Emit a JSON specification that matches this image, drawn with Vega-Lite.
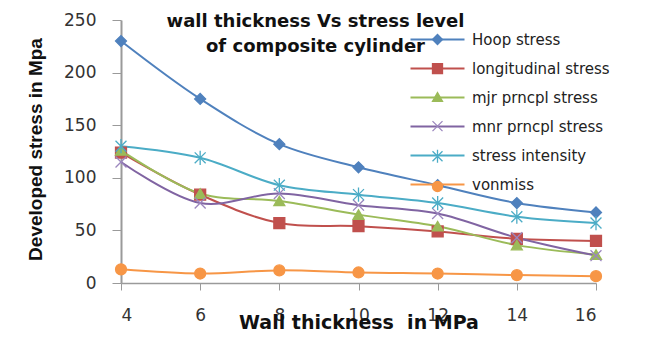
{
  "$schema": "https://vega.github.io/schema/vega-lite/v6.json",
  "autosize": "none",
  "width": 475,
  "height": 263,
  "padding": {"left": 121, "top": 20, "right": 58, "bottom": 58},
  "background": "white",
  "config": {"view": {"stroke": null}, "font": "DejaVu Sans"},
  "title": {
    "text": ["wall thickness Vs stress level", "of composite cylinder"],
    "font": "DejaVu Sans",
    "fontSize": 18,
    "fontWeight": "bold",
    "color": "#111",
    "anchor": "middle",
    "baseline": "top",
    "lineHeight": 25,
    "offset": 5,
    "dx": -43,
    "dy": 50
  },
  "data": {
    "values": [
      {"x": 4, "series": "Hoop stress", "marker": "Hoop stress", "value": 230},
      {"x": 6, "series": "Hoop stress", "marker": "Hoop stress", "value": 175},
      {"x": 8, "series": "Hoop stress", "marker": "Hoop stress", "value": 132},
      {"x": 10, "series": "Hoop stress", "marker": "Hoop stress", "value": 110},
      {"x": 12, "series": "Hoop stress", "marker": "Hoop stress", "value": 93},
      {"x": 14, "series": "Hoop stress", "marker": "Hoop stress", "value": 76},
      {"x": 16, "series": "Hoop stress", "marker": "Hoop stress", "value": 67},
      {"x": 4, "series": "longitudinal stress", "marker": "longitudinal stress", "value": 124},
      {"x": 6, "series": "longitudinal stress", "marker": "longitudinal stress", "value": 84},
      {"x": 8, "series": "longitudinal stress", "marker": "longitudinal stress", "value": 57},
      {"x": 10, "series": "longitudinal stress", "marker": "longitudinal stress", "value": 54},
      {"x": 12, "series": "longitudinal stress", "marker": "longitudinal stress", "value": 49},
      {"x": 14, "series": "longitudinal stress", "marker": "longitudinal stress", "value": 42},
      {"x": 16, "series": "longitudinal stress", "marker": "longitudinal stress", "value": 40},
      {"x": 4, "series": "mjr prncpl stress", "marker": "mjr prncpl stress", "value": 126},
      {"x": 6, "series": "mjr prncpl stress", "marker": "mjr prncpl stress", "value": 85},
      {"x": 8, "series": "mjr prncpl stress", "marker": "mjr prncpl stress", "value": 78},
      {"x": 10, "series": "mjr prncpl stress", "marker": "mjr prncpl stress", "value": 65},
      {"x": 12, "series": "mjr prncpl stress", "marker": "mjr prncpl stress", "value": 54},
      {"x": 14, "series": "mjr prncpl stress", "marker": "mjr prncpl stress", "value": 36},
      {"x": 16, "series": "mjr prncpl stress", "marker": "mjr prncpl stress", "value": 27},
      {"x": 4, "series": "mnr prncpl stress", "marker": "mnr prncpl stress", "value": 115},
      {"x": 6, "series": "mnr prncpl stress", "marker": "mnr prncpl stress", "value": 76},
      {"x": 8, "series": "mnr prncpl stress", "marker": "mnr prncpl stress", "value": 85},
      {"x": 10, "series": "mnr prncpl stress", "marker": "mnr prncpl stress", "value": 74},
      {"x": 12, "series": "mnr prncpl stress", "marker": "mnr prncpl stress", "value": 66},
      {"x": 14, "series": "mnr prncpl stress", "marker": "mnr prncpl stress", "value": 43},
      {"x": 16, "series": "mnr prncpl stress", "marker": "mnr prncpl stress", "value": 26},
      {"x": 4, "series": "stress intensity", "marker": "stress intensity", "value": 130},
      {"x": 6, "series": "stress intensity", "marker": "stress intensity", "value": 119},
      {"x": 8, "series": "stress intensity", "marker": "stress intensity", "value": 93},
      {"x": 10, "series": "stress intensity", "marker": "stress intensity", "value": 84},
      {"x": 12, "series": "stress intensity", "marker": "stress intensity", "value": 76},
      {"x": 14, "series": "stress intensity", "marker": "stress intensity", "value": 63},
      {"x": 16, "series": "stress intensity", "marker": "stress intensity", "value": 57},
      {"x": 4, "series": "vonmiss", "marker": "vonmiss", "value": 13},
      {"x": 6, "series": "vonmiss", "marker": "vonmiss", "value": 9},
      {"x": 8, "series": "vonmiss", "marker": "vonmiss", "value": 12},
      {"x": 10, "series": "vonmiss", "marker": "vonmiss", "value": 10},
      {"x": 12, "series": "vonmiss", "marker": "vonmiss", "value": 9},
      {"x": 14, "series": "vonmiss", "marker": "vonmiss", "value": 7.5},
      {"x": 16, "series": "vonmiss", "marker": "vonmiss", "value": 6.5}
    ]
  },
  "encoding": {
    "x": {
      "field": "x",
      "type": "quantitative",
      "scale": {"domain": [4, 16], "nice": false, "zero": false},
      "axis": {
        "values": [4, 6, 8, 10, 12, 14, 16],
        "grid": false,
        "title": "Wall thickness\u00a0 in MPa",
        "titleFont": "DejaVu Sans",
        "titleFontSize": 19,
        "titleFontWeight": "bold",
        "titleColor": "#111",
        "titleBaseline": "alphabetic",
        "titleY": 45,
        "labelFont": "DejaVu Sans",
        "labelFontSize": 17,
        "labelColor": "#333",
        "labelPadding": 17,
        "tickSize": 7,
        "tickColor": "#9a9a9a",
        "domainColor": "#9a9a9a",
        "domainWidth": 1.5
      }
    },
    "y": {
      "field": "value",
      "type": "quantitative",
      "scale": {"domain": [0, 250], "nice": false},
      "axis": {
        "values": [0, 50, 100, 150, 200, 250],
        "grid": false,
        "title": "Developed stress in Mpa",
        "titleFont": "Liberation Sans",
        "titleFontSize": 19,
        "titleFontWeight": "bold",
        "titleColor": "#111",
        "titleBaseline": "middle",
        "titleX": -86,
        "titleY": 129,
        "labelFont": "DejaVu Sans",
        "labelFontSize": 17,
        "labelColor": "#333",
        "labelPadding": 16,
        "tickSize": 9,
        "tickColor": "#9a9a9a",
        "domainColor": "#9a9a9a",
        "domainWidth": 2
      }
    }
  },
  "layer": [
    {
      "mark": {"type": "line", "interpolate": "catmull-rom", "strokeWidth": 2},
      "encoding": {
        "color": {
          "field": "series",
          "type": "nominal",
          "scale": {
            "domain": ["Hoop stress", "longitudinal stress", "mjr prncpl stress", "mnr prncpl stress", "stress intensity", "vonmiss"],
            "range": ["#4F81BD", "#C0504D", "#9BBB59", "#8064A2", "#4BACC6", "#F79646"]
          },
          "legend": {
            "orient": "none",
            "legendX": 309,
            "legendY": 12,
            "padding": 0,
            "title": null,
            "symbolType": "M-5.4,0H5.4",
            "symbolSize": 100,
            "symbolStrokeWidth": 2,
            "labelOffset": 27,
            "labelFont": "DejaVu Sans",
            "labelFontSize": 15,
            "labelColor": "#222",
            "rowPadding": 13
          }
        }
      }
    },
    {
      "mark": {"type": "point", "filled": true, "size": 120, "strokeWidth": 1.3, "opacity": 1},
      "encoding": {
        "fill": {
          "field": "marker",
          "type": "nominal",
          "scale": {
            "range": ["#4F81BD", "#C0504D", "#9BBB59", "#8064A2", "#4BACC6", "#F79646"]
          },
          "legend": {
            "orient": "none",
            "legendX": 309,
            "legendY": 12,
            "padding": 0,
            "title": null,
            "symbolSize": 100,
            "symbolOpacity": 1,
            "symbolStrokeWidth": 1.3,
            "labelOffset": 27,
            "labelFont": "DejaVu Sans",
            "labelFontSize": 15,
            "labelOpacity": 0,
            "rowPadding": 12.2
          }
        },
        "stroke": {
          "field": "marker",
          "type": "nominal",
          "scale": {
            "range": ["#4F81BD", "#C0504D", "#9BBB59", "#9B86BE", "#4BACC6", "#F79646"]
          }
        },
        "shape": {
          "field": "marker",
          "type": "nominal",
          "scale": {
            "range": ["diamond", "square", "triangle-up", "M-1,-1L1,1M-1,1L1,-1", "M-1,-1L1,1M-1,1L1,-1M0,-1.3V1.3", "circle"]
          }
        }
      }
    }
  ]
}
